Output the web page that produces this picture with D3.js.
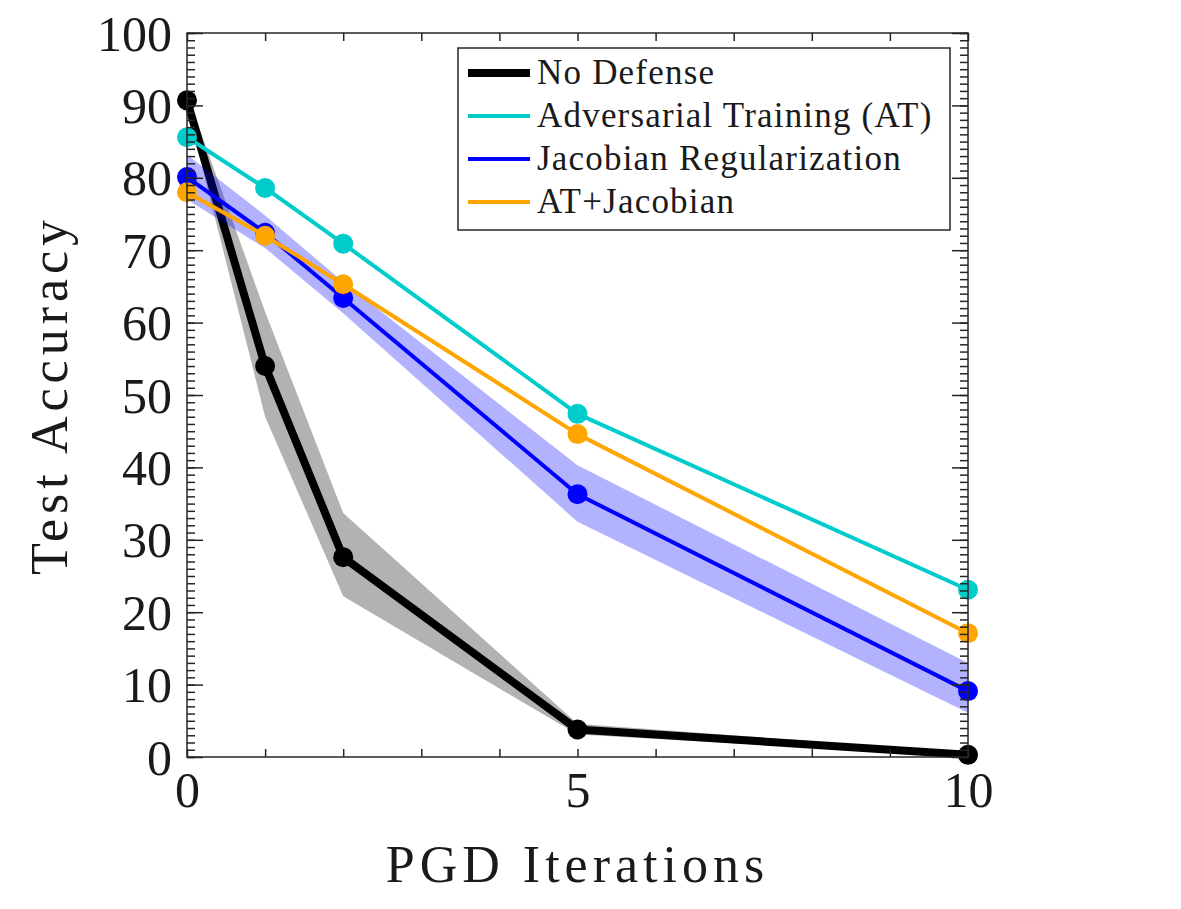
<!DOCTYPE html>
<html lang="en">
  <head>
    <meta charset="utf-8">
    <title>Test Accuracy vs PGD Iterations</title>
    <script src="https://cdnjs.cloudflare.com/ajax/libs/d3/7.8.5/d3.min.js"></script>
    <style>
      body { margin: 0; background: #fff; }
      svg text { font-family: "Liberation Serif", serif; fill: #1a1a1a; }
    </style>
  </head>
  <body>
    <div id="chart"></div>
    <script type="text/javascript">

    // data
    const iterations = [0, 1, 2, 5, 10];
    const seriesNames = ['No Defense', 'Adversarial Training (AT)', 'Jacobian Regularization', 'AT+Jacobian'];
    const noDefense = [90.7, 54.0, 27.6, 3.8, 0.3];
    const noDefenseHi = [91.6, 61.5, 33.7, 4.6, 0.6];
    const noDefenseLo = [89.8, 47.0, 22.2, 3.1, 0.1];
    const advTraining = [85.6, 78.6, 70.9, 47.4, 23.1];
    const jacobian = [80.1, 72.4, 63.4, 36.3, 9.1];
    const jacobianHi = [83.2, 74.8, 65.6, 40.3, 13.0];
    const jacobianLo = [77.0, 70.3, 61.3, 32.5, 6.1];
    const atJacobian = [78.0, 72.0, 65.3, 44.6, 17.1];
    const xTickLabels = [0, 5, 10];
    const yTickLabels = [0, 10, 20, 30, 40, 50, 60, 70, 80, 90, 100];

    const w = 1181, h = 909;
    const padL = 187, padR = 968, padT = 33, padB = 757;
    const axisCol = '#262626';

    const x = d3.scaleLinear().domain([0, 10]).range([padL, padR]);
    const y = d3.scaleLinear().domain([0, 100]).range([padB, padT]);

    const svg = d3.select('#chart').append('svg')
      .attr('width', w).attr('height', h);

    // shaded bands
    const band = (hi, lo) => d3.area()
      .x((d, i) => x(iterations[i]))
      .y0((d, i) => y(lo[i]))
      .y1((d, i) => y(hi[i]))(iterations);

    const line = (vals) => d3.line()
      .x((d, i) => x(iterations[i]))
      .y((d) => y(d))(vals);

    const drawSeries = function(vals, col, lw, r) {
      svg.append('path').attr('d', line(vals))
        .attr('fill', 'none').attr('stroke', col)
        .attr('stroke-width', lw).attr('stroke-linejoin', 'round');
      svg.append('g').selectAll('circle')
        .data(vals).enter().append('circle')
        .attr('cx', (d, i) => x(iterations[i]))
        .attr('cy', (d) => y(d))
        .attr('r', r)
        .attr('fill', col);
    };

    svg.append('path').attr('d', band(noDefenseHi, noDefenseLo))
      .attr('fill', '#000').attr('fill-opacity', 0.3);
    drawSeries(noDefense, '#000000', 8, 10);
    drawSeries(advTraining, '#00CCCC', 4, 10);
    svg.append('path').attr('d', band(jacobianHi, jacobianLo))
      .attr('fill', '#0000FF').attr('fill-opacity', 0.3);
    drawSeries(jacobian, '#0000FF', 4, 10);
    drawSeries(atJacobian, '#FFA500', 4, 10);

    // axes with inward ticks on all four sides
    const styleAxis = function(g) {
      g.select('.domain').remove();
      g.selectAll('line').attr('stroke', axisCol).attr('stroke-width', 1.5);
    };

    svg.append('g').attr('transform', 'translate(0,' + padB + ')')
      .call(d3.axisBottom(x).tickValues(d3.range(0, 11)).tickSize(-8).tickPadding(14)
        .tickFormat(d => xTickLabels.includes(d) ? d : ''))
      .call(styleAxis)
      .selectAll('text').attr('font-size', 50).attr('fill', '#1a1a1a');

    svg.append('g').attr('transform', 'translate(0,' + padT + ')')
      .call(d3.axisTop(x).tickValues(d3.range(0, 11)).tickSize(-8).tickFormat(''))
      .call(styleAxis);

    svg.append('g').attr('transform', 'translate(' + padL + ',0)')
      .call(d3.axisLeft(y).tickValues(d3.range(0, 101)).tickSize(-8).tickFormat(''))
      .call(styleAxis);
    svg.append('g').attr('transform', 'translate(' + padL + ',0)')
      .call(d3.axisLeft(y).tickValues(yTickLabels).tickSize(-16).tickPadding(15))
      .call(styleAxis)
      .selectAll('text').attr('font-size', 50).attr('fill', '#1a1a1a').attr('dy', '0.34em');

    svg.append('g').attr('transform', 'translate(' + padR + ',0)')
      .call(d3.axisRight(y).tickValues(d3.range(0, 101)).tickSize(-8).tickFormat(''))
      .call(styleAxis);
    svg.append('g').attr('transform', 'translate(' + padR + ',0)')
      .call(d3.axisRight(y).tickValues(yTickLabels).tickSize(-16).tickFormat(''))
      .call(styleAxis);

    svg.append('rect')
      .attr('x', padL).attr('y', padT)
      .attr('width', padR - padL).attr('height', padB - padT)
      .attr('fill', 'none').attr('stroke', axisCol).attr('stroke-width', 1.5);

    // axis titles
    svg.append('text')
      .attr('x', (padL + padR) / 2).attr('y', 882)
      .attr('text-anchor', 'middle').attr('font-size', 52)
      .attr('letter-spacing', 5)
      .text('PGD Iterations');

    svg.append('text')
      .attr('transform', 'translate(67,' + (padT + padB) / 2 + ') rotate(-90)')
      .attr('text-anchor', 'middle').attr('font-size', 52)
      .attr('letter-spacing', 5)
      .text('Test Accuracy');

    // legend
    const legCols = ['#000000', '#00CCCC', '#0000FF', '#FFA500'];
    const legWidths = [8, 4, 4, 4];
    const leg = svg.append('g');
    leg.append('rect')
      .attr('x', 458).attr('y', 48).attr('width', 492).attr('height', 182)
      .attr('fill', '#fff').attr('stroke', axisCol).attr('stroke-width', 1.5);
    seriesNames.forEach(function(name, i) {
      const cy = 73 + i * 43;
      leg.append('line')
        .attr('x1', 468).attr('x2', 530).attr('y1', cy).attr('y2', cy)
        .attr('stroke', legCols[i]).attr('stroke-width', legWidths[i]);
      leg.append('text')
        .attr('x', 537).attr('y', cy + 11)
        .attr('font-size', 35).attr('letter-spacing', 1.2)
        .text(name);
    });
    </script>
  </body>
</html>
